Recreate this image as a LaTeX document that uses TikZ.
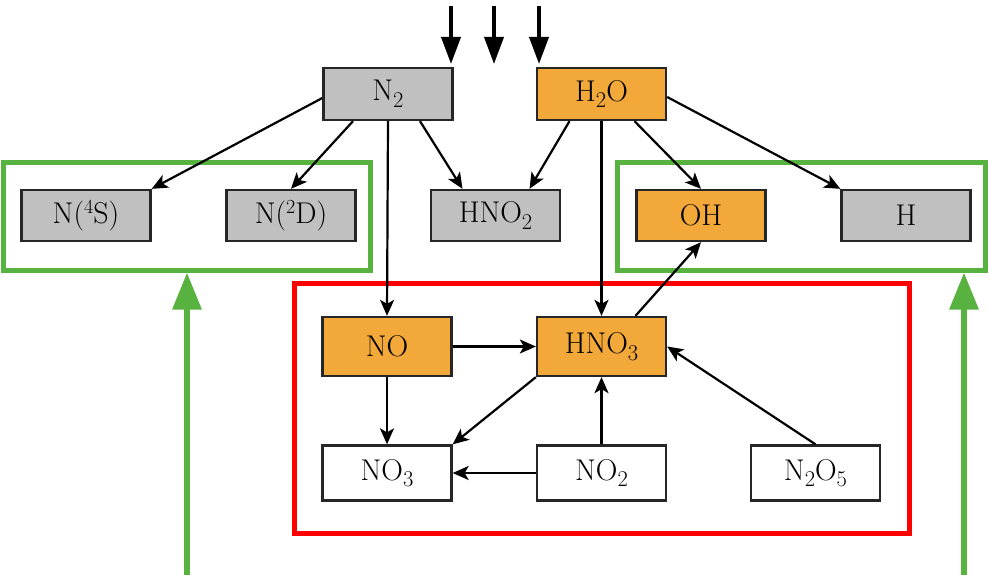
\documentclass[tikz,border=0pt]{standalone}
\usepackage{fontspec}
\setmainfont{Latin Modern Roman}
\usetikzlibrary{arrows.meta}
\newcommand{\chsub}[1]{\raisebox{-6.5pt}{\fontsize{22.5}{24}\selectfont #1}}
\newcommand{\chsup}[1]{\raisebox{10.5pt}{\fontsize{20}{21}\selectfont #1}}
\definecolor{boxgray}{RGB}{192,192,192}
\definecolor{boxorange}{RGB}{243,168,58}
\definecolor{framegreen}{RGB}{88,178,64}
\definecolor{framered}{RGB}{255,0,0}
\tikzset{
  chem/.style={draw=black!85, line width=2.3pt, minimum width=129pt, inner sep=0pt,
    font=\fontsize{30}{34}\selectfont},
  grayfill/.style={chem, fill=boxgray, minimum height=51pt},
  orangefill/.style={chem, fill=boxorange},
  whitefill/.style={chem, fill=white, minimum height=55pt},
  conn/.style={draw=black, line width=2.2pt, -{Stealth[length=16pt,width=14pt,inset=4pt]}},
  inflow/.style={draw=black, line width=3.8pt, -{Triangle[length=27pt,width=19pt]}},
  greenframe/.style={draw=framegreen, line width=5pt},
  redframe/.style={draw=framered, line width=5pt},
  greenarrow/.style={draw=framegreen, line width=6pt, -{Triangle[length=37pt,width=28pt]}}
}
\begin{document}
\begin{tikzpicture}[x=1pt,y=-1pt]
\useasboundingbox (0,0) rectangle (990,575);

% frames
\draw[greenframe] (3.5,162) rectangle (370,270);
\draw[greenframe] (617.5,162) rectangle (985,270);
\draw[redframe] (294,283.5) rectangle (909.5,533.5);

% nodes
\node[grayfill, minimum height=52pt] (n2) at (388,94) {N\chsub{2}};
\node[orangefill, minimum height=52pt] (h2o) at (601.5,94) {H\chsub{2}O};
\node[grayfill] (n4s) at (86,215.5) {N(\chsup{4}S)};
\node[grayfill] (n2d) at (291,215.5) {N(\chsup{2}D)};
\node[grayfill] (hno2) at (495.5,215.5) {HNO\chsub{2}};
\node[orangefill, minimum height=51pt] (oh) at (701,215.5) {OH};
\node[grayfill] (h) at (906,215.5) {H};
\node[orangefill, minimum height=59pt] (no) at (387,346.5) {NO};
\node[orangefill, minimum height=59pt] (hno3) at (601.5,346.5) {HNO\chsub{3}};
\node[whitefill] (no3) at (387,473) {NO\chsub{3}};
\node[whitefill] (no2) at (601.5,473) {NO\chsub{2}};
\node[whitefill] (n2o5) at (815.5,473) {N\chsub{2}O\chsub{5}};

% connectors
\draw[conn] ([yshift=-4pt]n2.west) -- (n4s.north east);
\draw[conn] ([xshift=-35pt]n2.south) -- (n2d.north);
\draw[conn] (n2.south) -- (no.north);
\draw[conn] ([xshift=32pt]n2.south) -- ([xshift=-33pt]hno2.north);
\draw[conn] ([xshift=-32pt]h2o.south) -- ([xshift=34pt]hno2.north);
\draw[conn] (h2o.south) -- (hno3.north);
\draw[conn] ([xshift=33pt]h2o.south) -- (oh.north);
\draw[conn] ([yshift=-3pt]h2o.east) -- (h.north west);
\draw[conn] ([xshift=34pt]hno3.north) -- (oh.south);
\draw[conn] (no.east) -- (hno3.west);
\draw[conn] (no.south) -- (no3.north);
\draw[conn] (hno3.south west) -- (no3.north east);
\draw[conn] (no2.north) -- (hno3.south);
\draw[conn] (no2.west) -- (no3.east);
\draw[conn] (n2o5.north) -- (hno3.east);

% inflow arrows at top
\coordinate (ta) at (451,6);
\coordinate (tb) at (494,6);
\coordinate (tc) at (539,6);
\coordinate (ea) at (451,64);
\coordinate (eb) at (494,64);
\coordinate (ec) at (539,64);
\draw[inflow] (ta) -- (ea);
\draw[inflow] (tb) -- (eb);
\draw[inflow] (tc) -- (ec);

% green arrows from below
\coordinate (gl0) at (187,575);
\coordinate (gl1) at (187,272.5);
\coordinate (gr0) at (964,575);
\coordinate (gr1) at (964,272.5);
\draw[greenarrow] (gl0) -- (gl1);
\draw[greenarrow] (gr0) -- (gr1);
\end{tikzpicture}
\end{document}
